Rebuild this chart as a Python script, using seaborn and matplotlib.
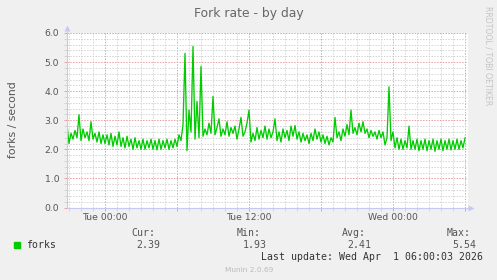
import matplotlib
matplotlib.use("Agg")
import matplotlib.pyplot as plt
import matplotlib.dates as mdates
from matplotlib.ticker import MultipleLocator, FuncFormatter
import seaborn as sns
import pandas as pd
import numpy as np

# ---- data (10-minute samples, Mon 20:50 -> Wed 06:00) ----
start_time = "2026-03-30 20:50"
end_time = "2026-04-01 06:00"
forks = [
    2.85, 2.2, 2.55, 2.35, 2.65, 2.4, 3.19, 2.3, 2.7, 2.4,
    2.6, 2.3, 2.95, 2.35, 2.55, 2.25, 2.6, 2.2, 2.5, 2.2,
    2.5, 2.15, 2.55, 2.1, 2.45, 2.15, 2.6, 2.1, 2.4, 2.05,
    2.45, 2.1, 2.35, 2.0, 2.4, 2.05, 2.3, 2.0, 2.35, 2.0,
    2.3, 2.05, 2.35, 2.0, 2.3, 1.98, 2.35, 2.0, 2.3, 2.05,
    2.35, 2.0, 2.3, 2.05, 2.35, 2.1,
    2.5, 2.3, 2.85, 5.3, 1.95, 3.35, 2.6, 5.54, 2.35, 3.65,
    2.4, 4.85, 2.45, 2.7, 2.5, 2.9, 2.55, 3.82, 2.5, 2.75,
    3.05, 2.45, 2.7, 2.5, 2.95, 2.45, 2.75, 2.55, 2.8, 2.35,
    2.7, 3.1, 2.45, 2.6, 2.9, 3.35,
    2.25, 2.55, 2.3, 2.75, 2.35, 2.65, 2.4, 2.8, 2.35, 2.7,
    2.4, 2.6, 3.05, 2.3, 2.6, 2.25, 2.7, 2.4, 2.65, 2.3,
    2.8, 2.45, 2.82, 2.35, 2.6, 2.25, 2.55, 2.3, 2.5, 2.2,
    2.55, 2.3, 2.7, 2.35, 2.6, 2.25,
    2.5, 2.2, 2.45, 2.15, 2.4, 2.25, 3.1, 2.4, 2.6, 2.3,
    2.7, 2.45, 2.85, 2.5, 3.35, 2.55, 2.75, 2.5, 2.9, 2.6,
    2.95, 2.55, 2.7, 2.4, 2.65, 2.45, 2.6, 2.35, 2.65, 2.4,
    2.6, 2.15, 2.4, 4.15, 2.3, 2.6,
    2.05, 2.4, 2.0, 2.35, 2.0, 2.3, 2.05, 2.8, 2.0, 2.3,
    2.0, 2.35, 1.95, 2.3, 2.0, 2.35, 1.95, 2.3, 2.0, 2.35,
    1.93, 2.3, 2.0, 2.35, 1.95, 2.3, 2.0, 2.35, 1.98, 2.3,
    2.0, 2.35, 2.0, 2.3, 2.05, 2.39,
]
series_label = "forks"
stat_names = ["Cur:", "Min:", "Avg:", "Max:"]
stat_values = ["2.39", "1.93", "2.41", "5.54"]
title = "Fork rate - by day"
ylabel = "forks / second"
last_update = "Last update: Wed Apr  1 06:00:03 2026"
footer = "Munin 2.0.69"
side_text = "RRDTOOL / TOBI OETIKER"

times = pd.date_range(start_time, end_time, freq="10min")
df = pd.DataFrame({"time": times, "value": forks})

# ---- figure ----
W, H = 497, 280
BG = "#F0F0F0"
TXT = "#555555"
GREEN = "#00CC00"
AXCOL = "#C8C8F4"
MAJ = "#E8A0A0"
MIN = "#D4D4D4"

fig = plt.figure(figsize=(W / 100, H / 100), dpi=100, facecolor=BG)
L, R, T, B = 67, 468, 33, 207.5
ax = fig.add_axes([L / W, 1 - B / H, (R - L) / W, (B - T) / H])
ax.set_facecolor("white")

sns.lineplot(data=df, x="time", y="value", ax=ax, color=GREEN, lw=0.95, zorder=5)

ax.set_xlim(pd.Timestamp("2026-03-30 20:50"), pd.Timestamp("2026-04-01 06:15"))
ax.set_ylim(0, 6.0)

ax.xaxis.set_major_locator(mdates.HourLocator(byhour=[0, 6, 12, 18]))
ax.xaxis.set_minor_locator(mdates.HourLocator(interval=1))


def xfmt(v, pos):
    d = mdates.num2date(v)
    if d.hour in (0, 12) and d.minute == 0:
        return d.strftime("%a %H:%M")
    return ""


ax.xaxis.set_major_formatter(FuncFormatter(xfmt))
ax.yaxis.set_major_locator(MultipleLocator(1.0))
ax.yaxis.set_minor_locator(MultipleLocator(0.2))
ax.yaxis.set_major_formatter(FuncFormatter(lambda v, p: f"{v:.1f}"))

dots = (0, (1.4, 1.4))
ax.grid(which="minor", color=MIN, lw=0.72, linestyle=dots, zorder=1)
ax.grid(which="major", color=MAJ, lw=0.72, linestyle=dots, zorder=2)
ax.set_axisbelow(True)

for s in ax.spines.values():
    s.set_visible(False)

ax.tick_params(axis="x", which="major", length=2, width=0.7, color=MAJ,
               labelsize=6.7, labelcolor=TXT, pad=2.2)
ax.tick_params(axis="x", which="minor", length=2, width=0.7, color=MIN)
ax.tick_params(axis="y", which="major", length=2, width=0.7, color=MAJ,
               labelsize=6.7, labelcolor=TXT, pad=3.6)
ax.tick_params(axis="y", which="minor", length=2, width=0.7, color=MIN)
ax.set_xlabel("")
ax.set_ylabel("")

# axis lines with arrows
ax.plot([0, 1.008], [0, 0], transform=ax.transAxes, color=AXCOL, lw=0.8,
        clip_on=False, zorder=6)
ax.plot([0, 0], [0, 1.03], transform=ax.transAxes, color=AXCOL, lw=0.8,
        clip_on=False, zorder=6)
ax.plot([1.008], [0], transform=ax.transAxes, marker=">", ms=4, color=AXCOL,
        clip_on=False, zorder=6, mec="none")
ax.plot([0], [1.03], transform=ax.transAxes, marker="^", ms=4, color=AXCOL,
        clip_on=False, zorder=6, mec="none")

# texts
fig.text(248.5 / W, 1 - 14 / H, title, ha="center", va="center",
         fontsize=8.9, color="#666666", family="DejaVu Sans")
fig.text(13 / W, 1 - 120 / H, ylabel, ha="center", va="center",
         rotation=90, fontsize=7.8, color=TXT, family="DejaVu Sans")
fig.text(487.8 / W, 1 - 56 / H, side_text, ha="center", va="center",
         rotation=270, fontsize=5.6, color="#C4C4C4", family="DejaVu Sans")

mono = "DejaVu Sans Mono"
fs = 7.1
fig.patches.append(plt.Rectangle((14 / W, 1 - 247.5 / H), 6 / W, 6 / H,
                                 transform=fig.transFigure, color=GREEN,
                                 figure=fig))
fig.text(26.5 / W, 1 - 244.5 / H, series_label, ha="left", va="center",
         fontsize=fs, color="#333333", family=mono)
name_x = [131.2, 236.2, 341.8, 446.2]
val_x = [136.5, 242.5, 347.5, 452.8]
for nx, vx, n, v in zip(name_x, val_x, stat_names, stat_values):
    fig.text(nx / W, 1 - 233.3 / H, n, ha="left", va="center",
             fontsize=fs, color=TXT, family=mono)
    fig.text(vx / W, 1 - 244.5 / H, v, ha="left", va="center",
             fontsize=fs, color=TXT, family=mono)
fig.text(261.2 / W, 1 - 256.7 / H, last_update, ha="left", va="center",
         fontsize=fs, color="#333333", family=mono)
fig.text(248.8 / W, 1 - 269.5 / H, footer, ha="center", va="center",
         fontsize=5.3, color="#BBBBBB", family="DejaVu Sans")

fig.savefig("out.png", dpi=100, facecolor=BG)
